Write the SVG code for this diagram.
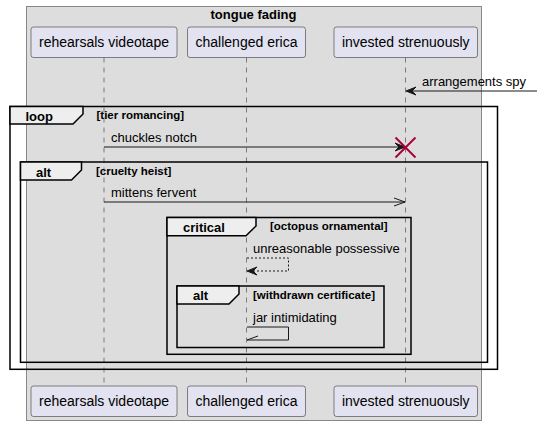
<svg xmlns="http://www.w3.org/2000/svg" width="538" height="426" viewBox="0 0 538 426">
<style>
text{font-family:"Liberation Sans",Arial,sans-serif;fill:#000}
.pt{font-size:14px;text-anchor:middle}
.msg{font-size:13px}
.kw{font-size:13px;font-weight:bold}
.cond{font-size:11.5px;font-weight:bold}
.part{fill:#E2E2F0;stroke:#181818;stroke-width:0.5}
.life{stroke:#181818;stroke-width:0.5;stroke-dasharray:5,5;fill:none}
.frame{fill:none;stroke:#000;stroke-width:1.5}
.tab{fill:#EEEEEE;stroke:#000;stroke-width:1.5}
.arr{stroke:#181818;stroke-width:1;fill:none}
.head{fill:#181818;stroke:#181818;stroke-width:1}
</style>
<rect width="538" height="426" fill="#FFFFFF"/>
<g id="box-tongue-fading">
<rect x="26.5" y="6.5" width="455" height="414" fill="#DDDDDD" stroke="#888888" stroke-width="1"/>
<text x="253.5" y="18.5" class="kw" text-anchor="middle">tongue fading</text>
</g>
<g id="lifelines">
<line class="life" x1="104" y1="57.5" x2="104" y2="386"/>
<line class="life" x1="246.5" y1="57.5" x2="246.5" y2="386"/>
<line class="life" x1="405.5" y1="57.5" x2="405.5" y2="386"/>
</g>
<g id="rehearsals-videotape">
<rect class="part" x="31" y="27" width="146" height="30.5" rx="2.5"/>
<text class="pt" x="104" y="46.5">rehearsals videotape</text>
<rect class="part" x="31" y="386" width="146" height="30.5" rx="2.5"/>
<text class="pt" x="104" y="406">rehearsals videotape</text>
</g>
<g id="challenged-erica">
<rect class="part" x="187.5" y="27" width="118" height="30.5" rx="2.5"/>
<text class="pt" x="246.5" y="46.5">challenged erica</text>
<rect class="part" x="187.5" y="386" width="118" height="30.5" rx="2.5"/>
<text class="pt" x="246.5" y="406">challenged erica</text>
</g>
<g id="invested-strenuously">
<rect class="part" x="334" y="27" width="143.5" height="30.5" rx="2.5"/>
<text class="pt" x="405.75" y="46.5">invested strenuously</text>
<rect class="part" x="334" y="386" width="143.5" height="30.5" rx="2.5"/>
<text class="pt" x="405.75" y="406">invested strenuously</text>
</g>
<g id="frame-loop">
<rect class="frame" x="10" y="106.5" width="487.5" height="262.8"/>
<polygon class="tab" points="10,106.5 83,106.5 83,114 73,124 10,124"/>
<text class="kw" x="25.5" y="120.5">loop</text>
<text class="cond" x="96.5" y="119">[tier romancing]</text>
</g>
<g id="frame-alt-cruelty">
<rect class="frame" x="20.5" y="162" width="467" height="200.3"/>
<polygon class="tab" points="20.5,162 81.5,162 81.5,170 71.5,180 20.5,180"/>
<text class="kw" x="36" y="176.5">alt</text>
<text class="cond" x="96" y="174.5">[cruelty heist]</text>
</g>
<g id="frame-critical">
<rect class="frame" x="167" y="217.5" width="244" height="136.8"/>
<polygon class="tab" points="167,217.5 256,217.5 256,226 246,235.8 167,235.8"/>
<text class="kw" x="183" y="231.5">critical</text>
<text class="cond" x="270" y="230">[octopus ornamental]</text>
</g>
<g id="frame-alt-withdrawn">
<rect class="frame" x="177" y="286" width="207" height="61.5"/>
<polygon class="tab" points="177,286 239,286 239,294 229,304 177,304"/>
<text class="kw" x="193" y="300">alt</text>
<text class="cond" x="253" y="299">[withdrawn certificate]</text>
</g>
<g id="connectors">
<line class="arr" x1="537" y1="91" x2="407" y2="91"/>
<polygon class="head" points="406,91 416,87 412,91 416,95"/>
<text class="msg" x="422" y="86">arrangements spy</text>
<line class="arr" x1="104" y1="147" x2="402" y2="147"/>
<polygon class="head" points="405,147 395,143 399,147 395,151"/>
<g stroke="#A80036" stroke-width="2"><line x1="395.5" y1="137.5" x2="415.5" y2="157.5"/><line x1="395.5" y1="157.5" x2="415.5" y2="137.5"/></g>
<text class="msg" x="111" y="142">chuckles notch</text>
<line class="arr" x1="104" y1="202" x2="405" y2="202"/>
<polyline class="arr" points="394,198 405,202 394,206"/>
<text class="msg" x="111" y="197">mittens fervent</text>
<path class="arr" d="M247,258 H288.5 V271 H249" stroke-dasharray="2,2"/>
<polygon class="head" points="247,271 257,267 253,271 257,275"/>
<text class="msg" x="253" y="253">unreasonable possessive</text>
<path class="arr" d="M247,327 H288.5 V340 H247"/>
<line class="arr" x1="247" y1="340" x2="258" y2="336"/>
<text class="msg" x="253" y="322">jar intimidating</text>
</g>
</svg>
